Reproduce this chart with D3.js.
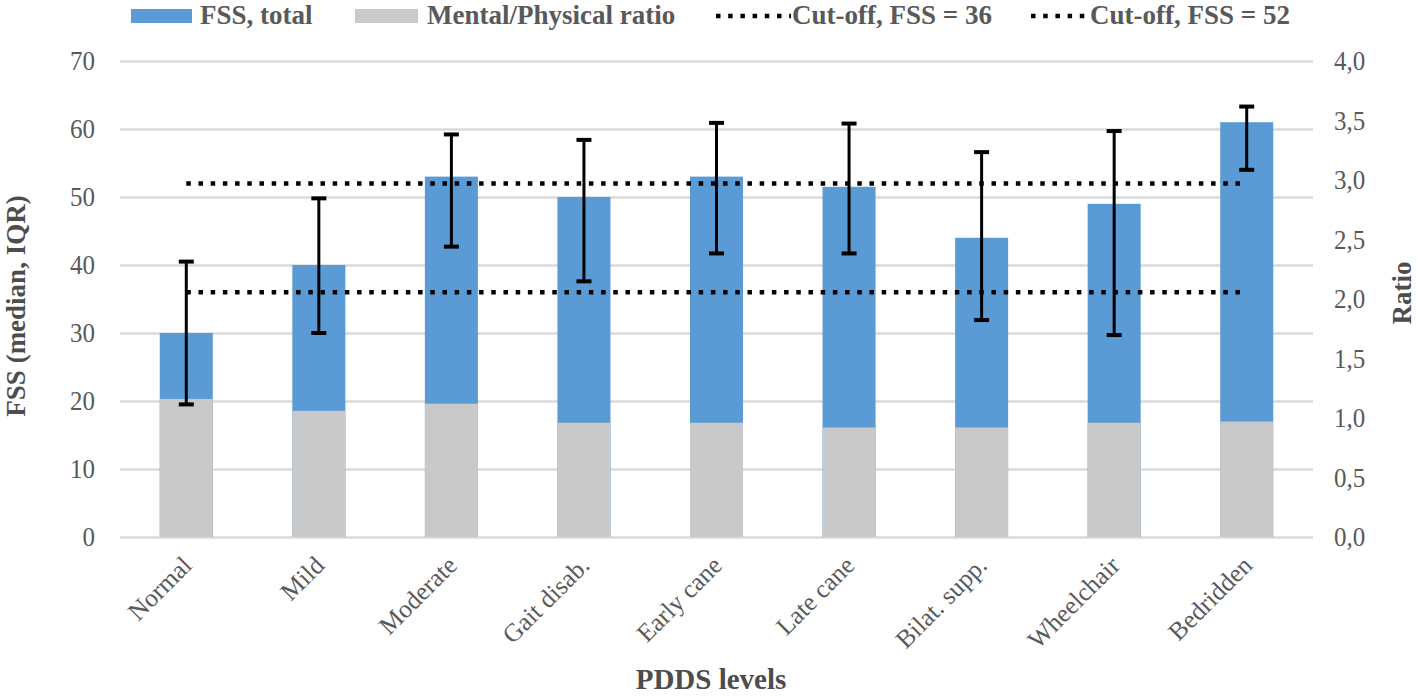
<!DOCTYPE html>
<html><head><meta charset="utf-8">
<script src="https://cdn.jsdelivr.net/npm/d3@7"></script>
<style>html,body{margin:0;padding:0;background:#fff;} svg{display:block;}</style>
</head><body>
<svg id="chart" width="1418" height="696"></svg>
<script>
const categories = ["Normal","Mild","Moderate","Gait disab.","Early cane","Late cane","Bilat. supp.","Wheelchair","Bedridden"];
const fssTotal = [30, 40, 53, 50, 53, 51.5, 44, 49, 61];
const fssQ1 = [19.5, 30, 42.7, 37.6, 41.7, 41.7, 31.9, 29.7, 54.0];
const fssQ3 = [40.5, 49.8, 59.2, 58.4, 60.9, 60.8, 56.6, 59.7, 63.3];
const mpRatio = [1.16, 1.06, 1.12, 0.96, 0.96, 0.92, 0.92, 0.96, 0.97];
const cutoffs = [36, 52];
const leftTicks = [0, 10, 20, 30, 40, 50, 60, 70];
const rightTicks = [0, 0.5, 1, 1.5, 2, 2.5, 3, 3.5, 4];
const legendLabels = ["FSS, total", "Mental/Physical ratio", "Cut-off, FSS = 36", "Cut-off, FSS = 52"];
const axisTitles = {left: "FSS (median, IQR)", right: "Ratio", bottom: "PDDS levels"};

const FONT = '"Liberation Serif","Times New Roman",serif';
const TXT = "#595959";
const BLUE = "#5b9bd5", GRAY = "#c9c9c9";

const svg = d3.select("#chart");
const L = 120, R = 1313, T = 61, B = 537;

const x = d3.scaleBand().domain(categories).range([L, R]).paddingInner(0.6).paddingOuter(0.3);
const yL = d3.scaleLinear().domain([0, 70]).range([B, T]);
const yR = d3.scaleLinear().domain([0, 4]).range([B, T]);
const bw = x.bandwidth();

// gridlines
const grid = svg.append("g").attr("transform", `translate(${L},0)`)
  .call(d3.axisLeft(yL).tickValues(leftTicks).tickSize(-(R - L)).tickFormat(""));
grid.select(".domain").remove();
grid.selectAll("line").attr("stroke", "#dadada").attr("stroke-width", 2.5);

// left axis labels
const ax = svg.append("g").attr("transform", `translate(${L},0)`)
  .call(d3.axisLeft(yL).tickValues(leftTicks).tickSize(0).tickPadding(25));
ax.select(".domain").remove();
ax.selectAll("text").attr("fill", TXT).style("font-family", FONT).style("font-size", "25px")
  .attr("transform", "scale(1,1.12)");

// right axis labels
const ar = svg.append("g").attr("transform", `translate(${R},0)`)
  .call(d3.axisRight(yR).tickValues(rightTicks).tickSize(0).tickPadding(21)
    .tickFormat(d => d3.format(".1f")(d).replace(".", ",")));
ar.select(".domain").remove();
ar.selectAll("text").attr("fill", TXT).style("font-family", FONT).style("font-size", "25px")
  .attr("transform", "scale(1,1.12)");

// x axis labels
const axb = svg.append("g").attr("transform", `translate(0,${B})`)
  .call(d3.axisBottom(x).tickSize(0));
axb.select(".domain").remove();
axb.selectAll("text").attr("x", 0).attr("y", 0).attr("dy", null)
  .attr("transform", "translate(7,30) rotate(-45)")
  .style("text-anchor", "end").attr("fill", TXT)
  .style("font-family", FONT).style("font-size", "25.5px");

// blue bars (FSS total)
svg.append("g").selectAll("rect").data(categories).join("rect")
  .attr("x", d => x(d)).attr("width", bw)
  .attr("y", (d, i) => yL(fssTotal[i])).attr("height", (d, i) => yL(0) - yL(fssTotal[i]))
  .attr("fill", BLUE);

// gray bars (ratio, right axis)
svg.append("g").selectAll("rect").data(categories).join("rect")
  .attr("x", d => x(d)).attr("width", bw)
  .attr("y", (d, i) => yR(mpRatio[i])).attr("height", (d, i) => yR(0) - yR(mpRatio[i]))
  .attr("fill", GRAY);

// cut-off lines
const x0 = x(categories[0]) + bw / 2, x1 = x(categories[categories.length - 1]) + bw / 2;
svg.append("g").selectAll("line").data(cutoffs).join("line")
  .attr("x1", x0).attr("x2", x1).attr("y1", d => yL(d)).attr("y2", d => yL(d))
  .attr("stroke", "#000").attr("stroke-width", 4.5).attr("stroke-dasharray", "4.5,7.7");

// error bars
const eb = svg.append("g").selectAll("g").data(categories).join("g")
  .attr("transform", d => `translate(${x(d) + bw / 2},0)`);
eb.append("line").attr("x1", 0).attr("x2", 0)
  .attr("y1", (d, i) => yL(fssQ1[i])).attr("y2", (d, i) => yL(fssQ3[i]))
  .attr("stroke", "#000").attr("stroke-width", 3);
eb.append("line").attr("x1", -7.5).attr("x2", 7.5)
  .attr("y1", (d, i) => yL(fssQ1[i])).attr("y2", (d, i) => yL(fssQ1[i]))
  .attr("stroke", "#000").attr("stroke-width", 4);
eb.append("line").attr("x1", -7.5).attr("x2", 7.5)
  .attr("y1", (d, i) => yL(fssQ3[i])).attr("y2", (d, i) => yL(fssQ3[i]))
  .attr("stroke", "#000").attr("stroke-width", 4);

// axis titles
const titleStyle = s => s.attr("fill", "#4d4d4d").style("font-family", FONT)
  .style("font-weight", "bold").style("font-size", "27px").style("text-anchor", "middle");
svg.append("text").attr("transform", "translate(25,306) rotate(-90)").text(axisTitles.left).call(titleStyle);
svg.append("text").attr("transform", "translate(1411,293) rotate(-90)").text(axisTitles.right).call(titleStyle);
svg.append("text").attr("x", 711).attr("y", 689).text(axisTitles.bottom).call(titleStyle).style("font-size", "29px");

// legend
const lg = svg.append("g");
const legTxt = s => s.attr("fill", TXT).style("font-family", FONT).style("font-weight", "bold").style("font-size", "27px");
lg.append("rect").attr("x", 131).attr("y", 9).attr("width", 61).attr("height", 14).attr("fill", BLUE);
lg.append("text").attr("x", 200).attr("y", 24).text(legendLabels[0]).call(legTxt);
lg.append("rect").attr("x", 355).attr("y", 9).attr("width", 63).attr("height", 14).attr("fill", GRAY);
lg.append("text").attr("x", 427).attr("y", 24).text(legendLabels[1]).call(legTxt);
lg.append("line").attr("x1", 716).attr("x2", 791).attr("y1", 16).attr("y2", 16)
  .attr("stroke", "#000").attr("stroke-width", 4.5).attr("stroke-dasharray", "4.5,7.7");
lg.append("text").attr("x", 792).attr("y", 24).text(legendLabels[2]).call(legTxt);
lg.append("line").attr("x1", 1031).attr("x2", 1089).attr("y1", 16).attr("y2", 16)
  .attr("stroke", "#000").attr("stroke-width", 4.5).attr("stroke-dasharray", "4.5,7.7");
lg.append("text").attr("x", 1090).attr("y", 24).text(legendLabels[3]).call(legTxt);
</script>
</body></html>
